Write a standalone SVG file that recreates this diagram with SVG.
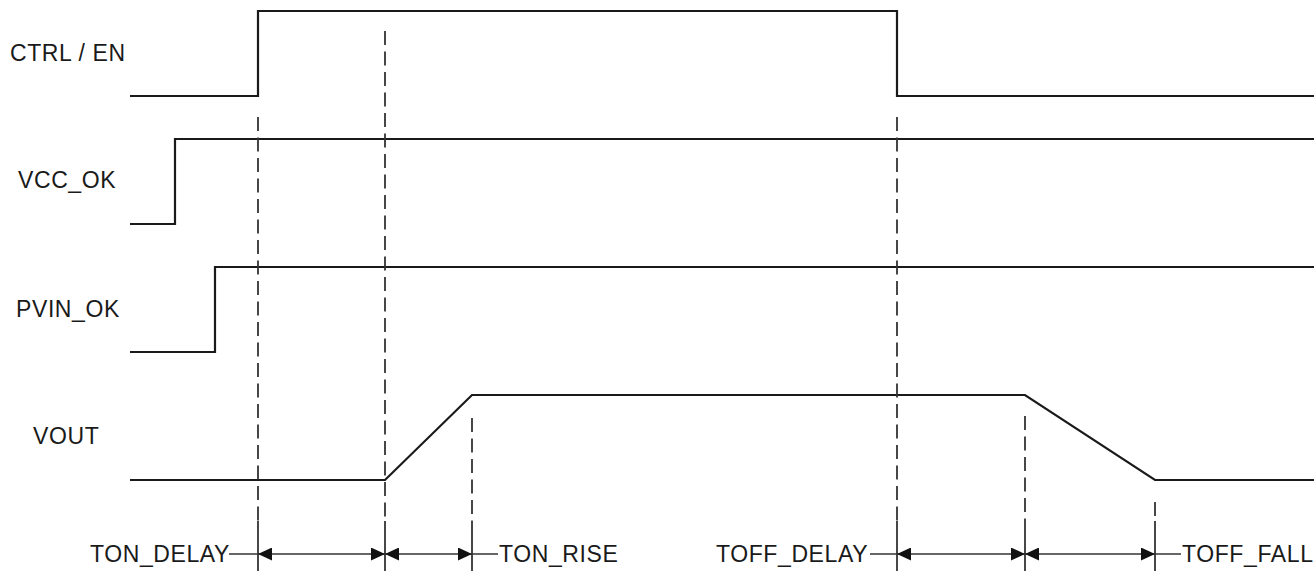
<svg xmlns="http://www.w3.org/2000/svg" width="1314" height="571" viewBox="0 0 1314 571">
<style>
  .bg { fill: #ffffff; }
  .sig { fill: none; stroke: #1a1a1a; stroke-width: 2.2; stroke-linejoin: miter; }
  .dash { fill: none; stroke: #333; stroke-width: 1.8; stroke-dasharray: 14 6.5; }
  .tick { fill: none; stroke: #333; stroke-width: 1.8; }
  .dim { fill: none; stroke: #333; stroke-width: 1.5; }
  .lbl { font-family: "Liberation Sans", Arial, sans-serif; font-size: 23px; letter-spacing: 0.6px; fill: #1a1a1a; }
</style>
<defs>
  <marker id="ah" viewBox="0 0 14 13" refX="14" refY="6.5" markerWidth="14" markerHeight="13" markerUnits="userSpaceOnUse" orient="auto-start-reverse">
    <path d="M0,0 L14,6.5 L0,13 z" fill="#111"/>
  </marker>
</defs>
<rect class="bg" x="0" y="0" width="1314" height="571"/>

<g id="ctrl_en">
  <text class="lbl" x="10" y="61">CTRL / EN</text>
  <polyline class="sig" points="130,96 258,96 258,11 897,11 897,96 1314,96"/>
</g>
<g id="vcc_ok">
  <text class="lbl" x="18" y="188">VCC_OK</text>
  <polyline class="sig" points="130,224 175,224 175,139 1314,139"/>
</g>
<g id="pvin_ok">
  <text class="lbl" x="16" y="317">PVIN_OK</text>
  <polyline class="sig" points="130,352 215,352 215,267 1314,267"/>
</g>
<g id="vout">
  <text class="lbl" x="33" y="444">VOUT</text>
  <polyline class="sig" points="130,480 385,480 472,395 1025,395 1155,480 1314,480"/>
</g>

<g id="connectors">
  <line class="dash" x1="258" y1="117" x2="258" y2="521"/>
  <line class="dash" x1="385" y1="31" x2="385" y2="521"/>
  <line class="dash" x1="897" y1="117" x2="897" y2="521"/>
  <line class="dash" x1="472" y1="418" x2="472" y2="521"/>
  <line class="dash" x1="1025" y1="416" x2="1025" y2="521"/>
  <line class="dash" x1="1155" y1="502" x2="1155" y2="516"/>

  <line class="tick" x1="258" y1="521" x2="258" y2="571"/>
  <line class="tick" x1="385" y1="521" x2="385" y2="571"/>
  <line class="tick" x1="472" y1="521" x2="472" y2="571"/>
  <line class="tick" x1="897" y1="521" x2="897" y2="571"/>
  <line class="tick" x1="1025" y1="521" x2="1025" y2="571"/>
  <line class="tick" x1="1155" y1="521" x2="1155" y2="571"/>

  <line class="dim" x1="229" y1="554" x2="258" y2="554"/>
  <line class="dim" x1="258" y1="554" x2="385" y2="554" marker-start="url(#ah)" marker-end="url(#ah)"/>
  <line class="dim" x1="385" y1="554" x2="472" y2="554" marker-start="url(#ah)" marker-end="url(#ah)"/>
  <line class="dim" x1="472" y1="554" x2="498" y2="554"/>

  <line class="dim" x1="870" y1="554" x2="897" y2="554"/>
  <line class="dim" x1="897" y1="554" x2="1025" y2="554" marker-start="url(#ah)" marker-end="url(#ah)"/>
  <line class="dim" x1="1025" y1="554" x2="1155" y2="554" marker-start="url(#ah)" marker-end="url(#ah)"/>
  <line class="dim" x1="1155" y1="554" x2="1181" y2="554"/>
</g>

<g id="timing_labels">
  <text class="lbl" x="90" y="562">TON_DELAY</text>
  <text class="lbl" x="499" y="562">TON_RISE</text>
  <text class="lbl" x="716" y="562">TOFF_DELAY</text>
  <text class="lbl" x="1182" y="562">TOFF_FALL</text>
</g>
</svg>
